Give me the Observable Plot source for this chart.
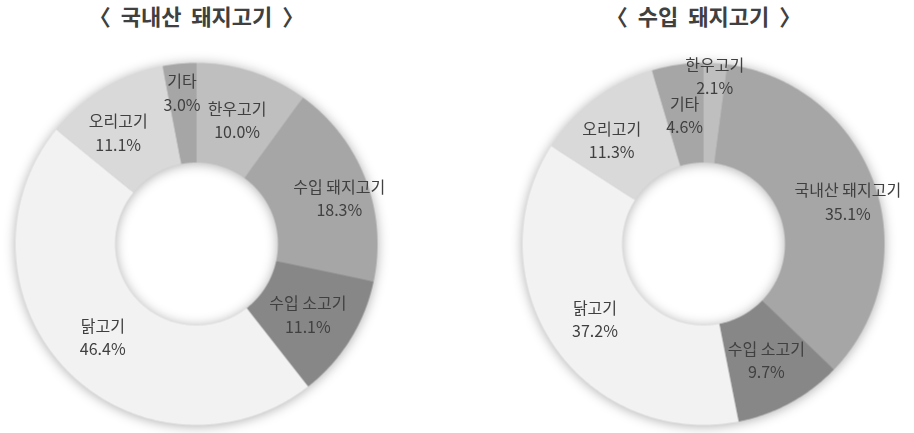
<!DOCTYPE html>
<html>
<head>
<meta charset="utf-8">
<script src="https://cdn.jsdelivr.net/npm/d3@7"></script>
<script src="https://cdn.jsdelivr.net/npm/@observablehq/plot@0.6"></script>
<style>
  html, body { margin: 0; padding: 0; background: #fff; }
  #chart svg g[aria-label="line"] { filter: drop-shadow(0px 1px 6px rgba(0,0,0,0.32)); }
  #chart svg text { white-space: pre; }
</style>
</head>
<body>
<div id="chart"></div>
<script>
// ---- data ----
const charts = ["국내산 돼지고기", "수입 돼지고기"];
const titles = ["〈\u00a0 국내산\u00a0 돼지고기\u00a0 〉", "〈\u00a0 수입\u00a0 돼지고기\u00a0 〉"];
const categories1 = ["한우고기", "수입 돼지고기", "수입 소고기", "닭고기", "오리고기", "기타"];
const values1 = [10.0, 18.3, 11.1, 46.4, 11.1, 3.0];
const categories2 = ["한우고기", "국내산 돼지고기", "수입 소고기", "닭고기", "오리고기", "기타"];
const values2 = [2.1, 35.1, 9.7, 37.2, 11.3, 4.6];

// ---- styles ----
const palette = {
  "한우고기": "#bfbfbf",
  "수입 돼지고기": "#a6a6a6",
  "국내산 돼지고기": "#a6a6a6",
  "수입 소고기": "#878787",
  "닭고기": "#f2f2f2",
  "오리고기": "#d9d9d9",
  "기타": "#a6a6a6"
};
const inner = 0.45;      // hole size relative to outer radius
const font = "'Noto Sans CJK KR', 'Noto Sans', sans-serif";
const fmt = d3.format(".1f");

// ---- derive geometry from data ----
const series = [
  {chart: charts[0], cats: categories1, vals: values1},
  {chart: charts[1], cats: categories2, vals: values2}
];
const polys = [];
const labels = [];
for (const s of series) {
  const total = d3.sum(s.vals);
  let acc = 0;
  s.cats.forEach((c, i) => {
    const a0 = acc / total * 2 * Math.PI;
    acc += s.vals[i];
    const a1 = acc / total * 2 * Math.PI;
    const n = Math.max(4, Math.ceil((a1 - a0) / 0.01));
    const key = s.chart + "|" + c;
    const pts = [];
    for (let k = 0; k <= n; k++) {
      const a = a0 + (a1 - a0) * k / n;
      pts.push({chart: s.chart, key, color: palette[c], x: Math.sin(a), y: Math.cos(a)});
    }
    for (let k = n; k >= 0; k--) {
      const a = a0 + (a1 - a0) * k / n;
      pts.push({chart: s.chart, key, color: palette[c], x: inner * Math.sin(a), y: inner * Math.cos(a)});
    }
    polys.push(...pts);
    const am = (a0 + a1) / 2;
    const r = (1 + inner) / 2 + Math.max(0, 4.2 - s.vals[i]) * 0.1;
    let lx = r * Math.sin(am);
    const ly = r * Math.cos(am);
    if (Math.cos(am) > 0 && Math.abs(Math.sin(am)) > 0.5) lx += 0.12 * Math.sin(am); // best-fit nudge
    labels.push({chart: s.chart, x: lx, y: ly, text: c + "\n" + fmt(s.vals[i]) + "%"});
  });
}
const titleData = charts.map((c, i) => ({chart: c, text: titles[i]}));

const plot = Plot.plot({
  width: 914,
  height: 433,
  marginTop: 0,
  marginBottom: 0,
  marginLeft: 15,
  marginRight: 30,
  fx: {domain: charts, paddingInner: 0.286, paddingOuter: 0, axis: null},
  x: {domain: [-1, 1], axis: null},
  y: {domain: [-1.047, 1.345], axis: null},
  color: {type: "identity"},
  style: {fontFamily: font, background: "#fff"},
  marks: [
    Plot.line(polys, {fx: "chart", x: "x", y: "y", z: "key", fill: "color", stroke: "none", curve: "linear"}),
    Plot.text(labels, {fx: "chart", x: "x", y: "y", text: "text", fontSize: 16, lineHeight: 1.47, fill: "#404040", fontFamily: font}),
    Plot.text(titleData, {fx: "chart", x: () => 0, y: () => 1.251, text: "text", fontSize: 22, fontWeight: "bold", fill: "#404040", fontFamily: font})
  ]
});
document.getElementById("chart").appendChild(plot);
</script>
</body>
</html>
